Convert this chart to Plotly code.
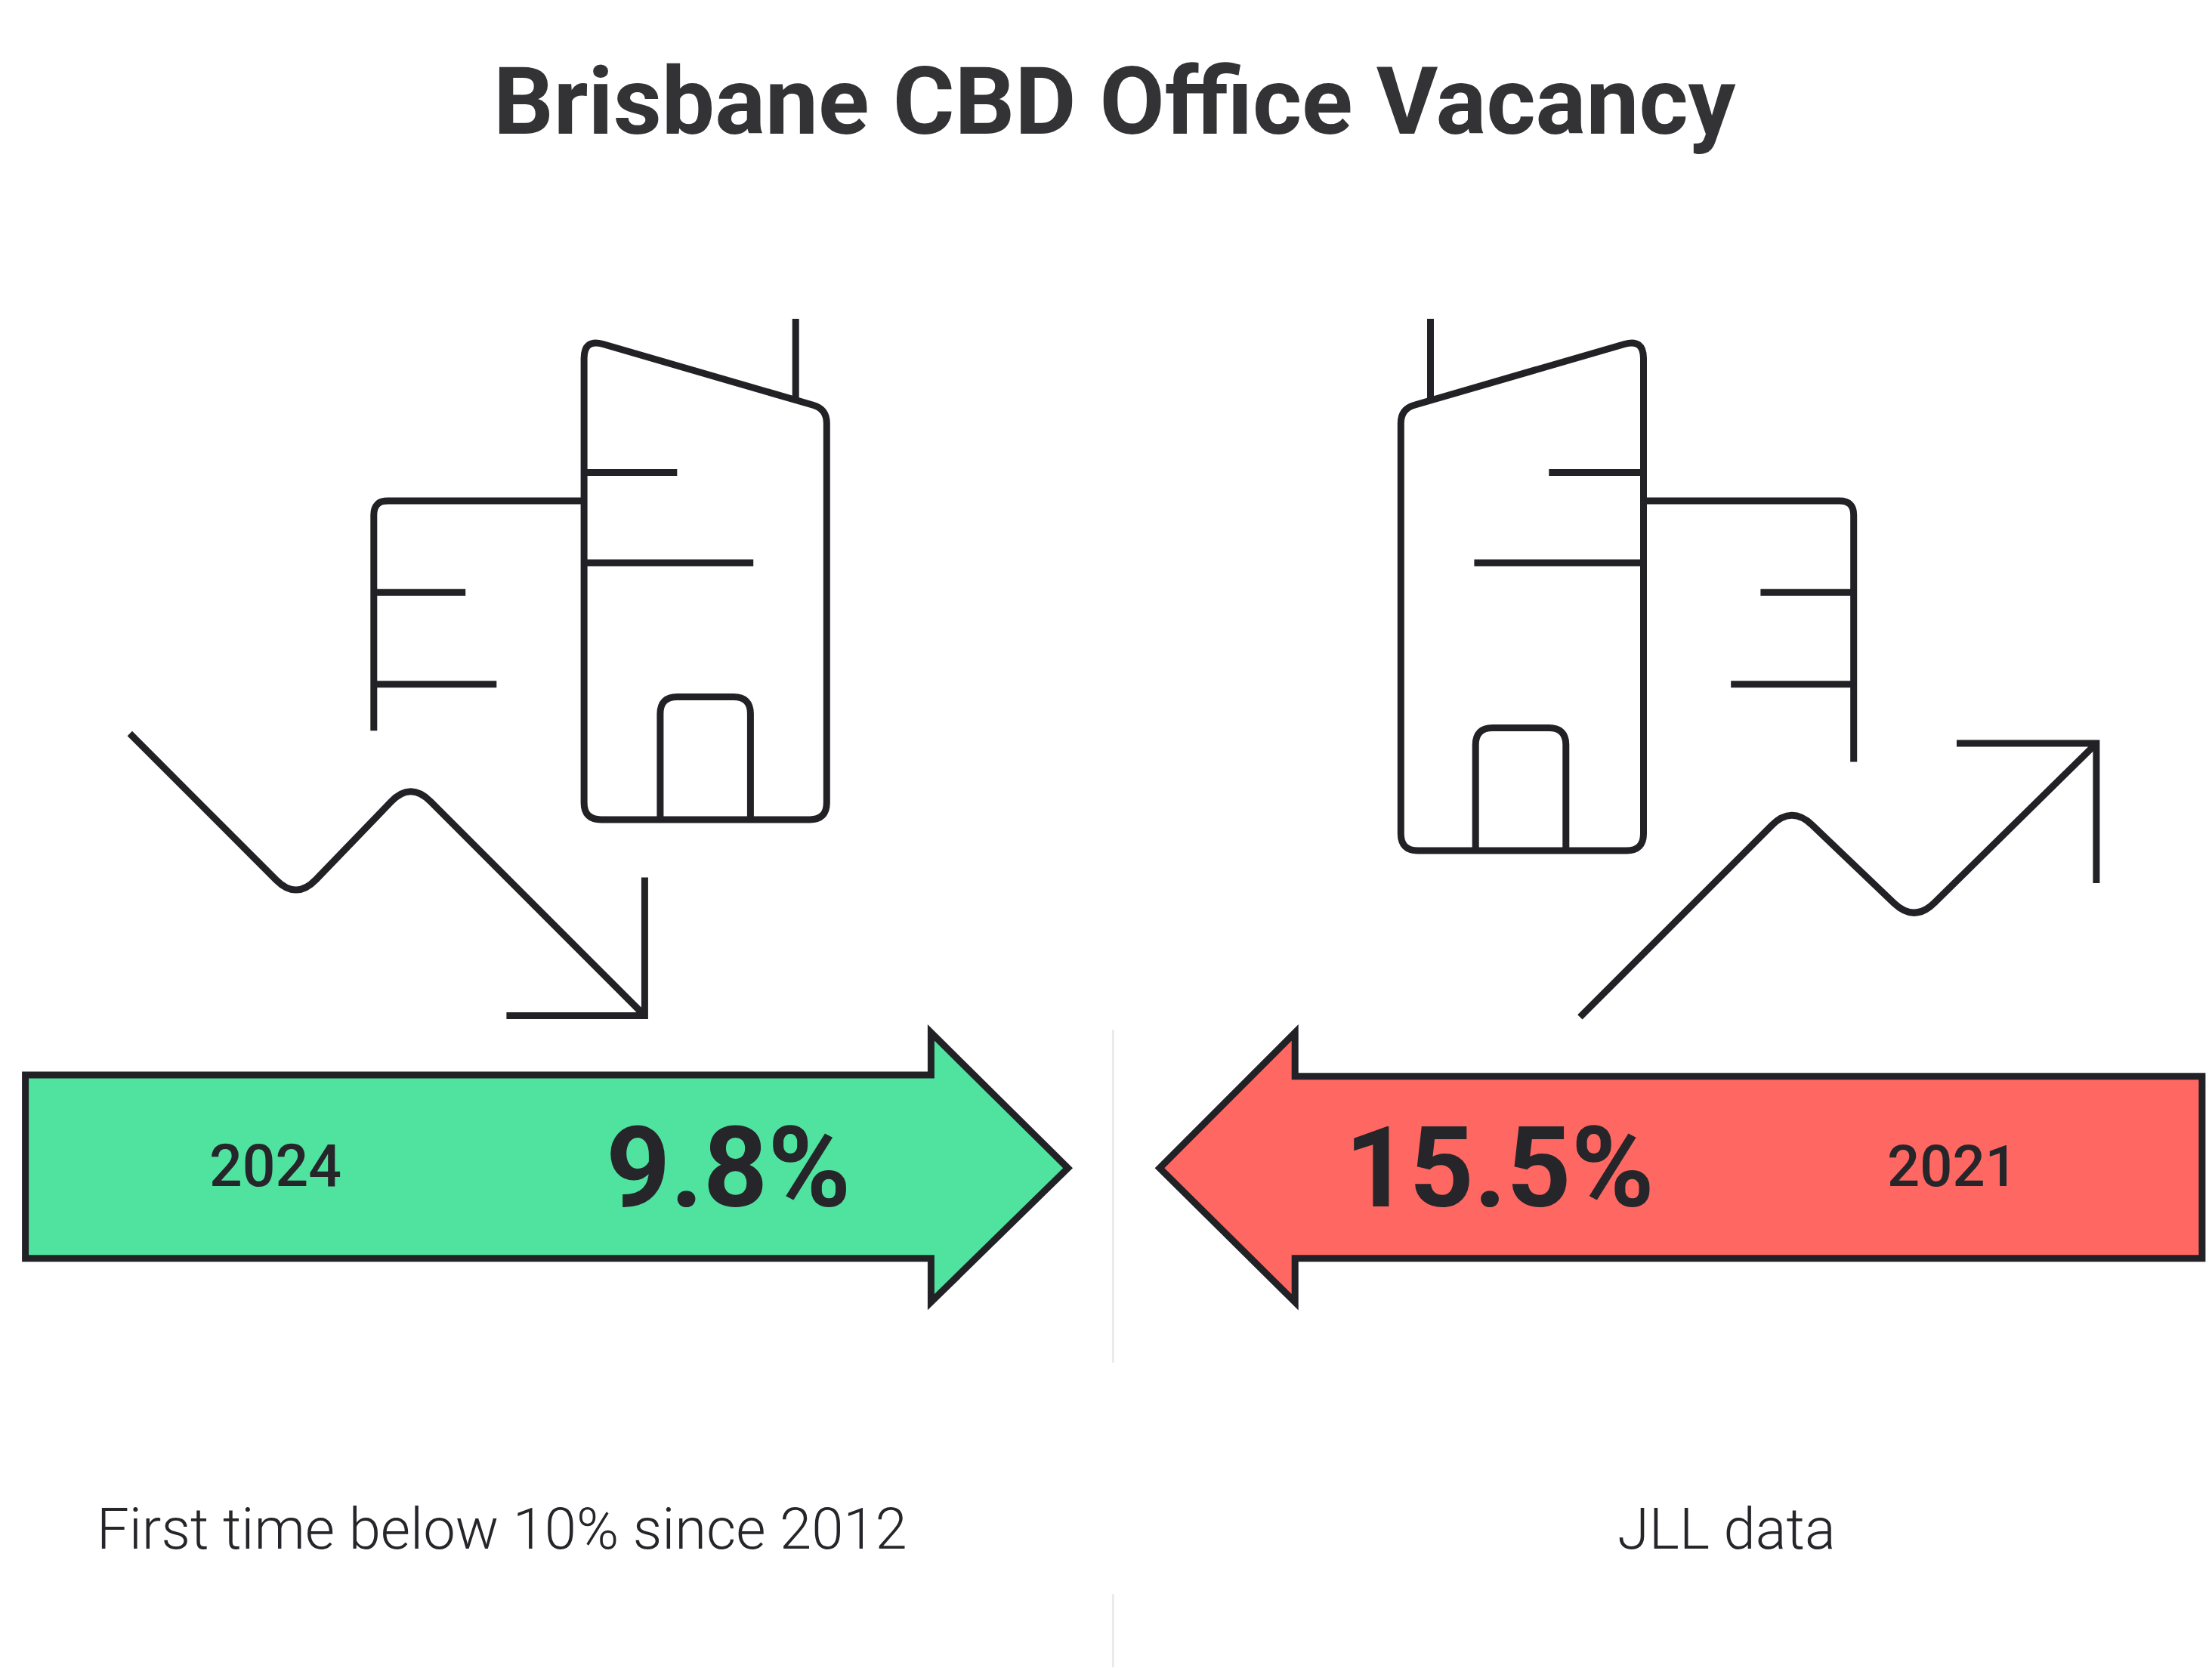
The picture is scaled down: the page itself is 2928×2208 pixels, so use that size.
import plotly.graph_objects as go

# chart values
years = ["2024", "2021"]
vacancy = ["9.8%", "15.5%"]
notes = ["First time below 10% since 2012", "JLL data"]
title_text = "Brisbane CBD Office Vacancy"

S = 2928 / 1568

INK = "#222226"
GREEN = "#50E3A0"
RED = "#FF6762"


def path(points, close=False, fill=None, width=9, color=INK):
    """Polyline shape, a point may carry a corner radius as third item."""
    out = []
    for i, p in enumerate(points):
        x, y = p[0] * S, p[1] * S
        r = p[2] * S if len(p) > 2 else 0
        if r == 0:
            out.append(f"{'M' if i == 0 else 'L'}{x:.1f},{y:.1f}")
            continue
        a, b = points[i - 1], points[(i + 1) % len(points)]
        ax, ay = a[0] * S - x, a[1] * S - y
        bx, by = b[0] * S - x, b[1] * S - y
        la, lb = (ax**2 + ay**2) ** 0.5, (bx**2 + by**2) ** 0.5
        out.append(f"{'M' if i == 0 else 'L'}{x + ax / la * r:.1f},{y + ay / la * r:.1f}")
        out.append(f"Q{x:.1f},{y:.1f} {x + bx / lb * r:.1f},{y + by / lb * r:.1f}")
    d = " ".join(out) + (" Z" if close else "")
    return dict(type="path", path=d, xref="x", yref="y", fillcolor=fill or "rgba(0,0,0,0)",
                line=dict(color=color, width=width), layer="above")


tower_left = [(414, 581, 12), (414, 240, 14), (586, 290, 10), (586, 581, 12)]
tower_right = [(993, 603, 12), (993, 290, 10), (1165, 240, 14), (1165, 603, 12)]
lines_left = [
    [(564, 226), (564, 285)],
    [(414, 335), (480, 335)],
    [(414, 399), (534, 399)],
    [(414, 355), (265, 355, 10), (265, 518)],
    [(265, 420), (330, 420)],
    [(265, 485), (352, 485)],
    [(468, 581), (468, 494, 12), (532, 494, 12), (532, 581)],
    [(92, 520), (210, 638, 20), (291, 554, 20), (457, 720)],
    [(457, 622), (457, 720), (359, 720)],
]
lines_right = [
    [(1014, 226), (1014, 285)],
    [(1098, 335), (1165, 335)],
    [(1045, 399), (1165, 399)],
    [(1165, 355), (1314, 355, 10), (1314, 540)],
    [(1248, 420), (1314, 420)],
    [(1227, 485), (1314, 485)],
    [(1046, 603), (1046, 516, 12), (1110, 516, 12), (1110, 603)],
    [(1120, 721), (1270, 571, 20), (1357, 654, 20), (1486, 527)],
    [(1387, 527), (1486, 527), (1486, 626)],
]
arrow_green = [(18, 762), (660, 762), (660, 732), (757, 828), (660, 923), (660, 892), (18, 892)]
arrow_red = [(1561, 763), (918, 763), (918, 732), (822, 828), (918, 923), (918, 892), (1561, 892)]

shapes = [path(arrow_green, True, GREEN), path(arrow_red, True, RED)]
shapes += [path(tower_left, True), path(tower_right, True)]
shapes += [path(p) for p in lines_left + lines_right]
for y0, y1 in [(730, 966), (1130, 1182)]:
    shapes.append(dict(type="line", x0=789 * S, x1=789 * S, y0=y0 * S, y1=y1 * S, xref="x", yref="y",
                       line=dict(color="#EAEAEA", width=3), layer="below"))


def label(text, x, y, size, weight, color="#26262A"):
    return dict(text=text, x=x * S, y=y * S, xref="x", yref="y", showarrow=False,
                xanchor="center", yanchor="middle",
                font=dict(family="Roboto", size=size, weight=weight, color=color))


annotations = [
    label(title_text, 790, 72, 125, 700, "#333336"),
    label(years[0], 195, 827, 77, 500),
    label(vacancy[0], 516, 828, 149, 700),
    label(vacancy[1], 1063, 828, 149, 700),
    label(years[1], 1384, 827, 76, 500),
    label(notes[0], 356, 1084, 76, 300),
    label(notes[1], 1224, 1084, 76, 300),
]

fig = go.Figure()
fig.update_layout(
    width=2928, height=2208,
    margin=dict(l=0, r=0, t=0, b=0),
    paper_bgcolor="white", plot_bgcolor="white",
    showlegend=False,
    xaxis=dict(range=[0, 2928], visible=False, fixedrange=True),
    yaxis=dict(range=[2208, 0], visible=False, fixedrange=True),
    shapes=shapes, annotations=annotations,
)
fig.write_html("out.html", config={"displayModeBar": False},
               post_script="document.body.style.margin='0';")
